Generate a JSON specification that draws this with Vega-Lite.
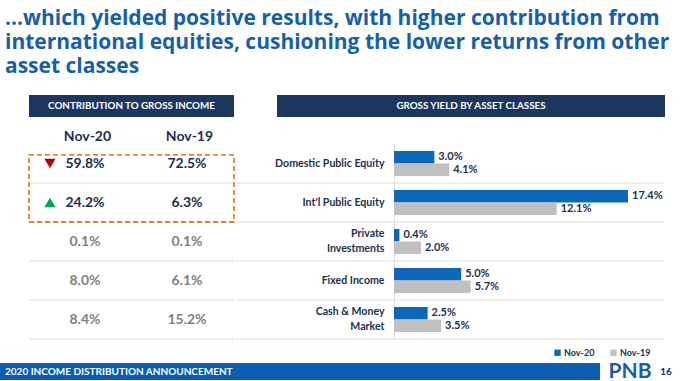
{
  "$schema": "https://vega.github.io/schema/vega-lite/v6.json",
  "background": "white",
  "padding": {"left": 0, "top": 8, "right": 0, "bottom": 0},
  "title": {
    "text": ["…which yielded positive results, with higher contribution from", "international equities, cushioning the lower returns from other", "asset classes"],
    "anchor": "start",
    "frame": "group",
    "font": "Open Sans",
    "fontSize": 21,
    "fontWeight": "bold",
    "lineHeight": 24,
    "color": "#1560a8",
    "offset": 18,
    "dx": 5
  },
  "config": {
    "view": {"stroke": null},
    "font": "Lato",
    "text": {"font": "Lato"}
  },
  "datasets": {
    "yield": [
      {"asset": "Domestic Public Equity", "period": "Nov-20", "value": 0.030},
      {"asset": "Domestic Public Equity", "period": "Nov-19", "value": 0.041},
      {"asset": "Int'l Public Equity", "period": "Nov-20", "value": 0.174},
      {"asset": "Int'l Public Equity", "period": "Nov-19", "value": 0.121},
      {"asset": "Private Investments", "period": "Nov-20", "value": 0.004},
      {"asset": "Private Investments", "period": "Nov-19", "value": 0.020},
      {"asset": "Fixed Income", "period": "Nov-20", "value": 0.050},
      {"asset": "Fixed Income", "period": "Nov-19", "value": 0.057},
      {"asset": "Cash & Money Market", "period": "Nov-20", "value": 0.025},
      {"asset": "Cash & Money Market", "period": "Nov-19", "value": 0.035}
    ],
    "contrib": [
      {"asset": "Domestic Public Equity", "period": "Nov-20", "share": 0.598},
      {"asset": "Domestic Public Equity", "period": "Nov-19", "share": 0.725},
      {"asset": "Int'l Public Equity", "period": "Nov-20", "share": 0.242},
      {"asset": "Int'l Public Equity", "period": "Nov-19", "share": 0.063},
      {"asset": "Private Investments", "period": "Nov-20", "share": 0.001},
      {"asset": "Private Investments", "period": "Nov-19", "share": 0.001},
      {"asset": "Fixed Income", "period": "Nov-20", "share": 0.080},
      {"asset": "Fixed Income", "period": "Nov-19", "share": 0.061},
      {"asset": "Cash & Money Market", "period": "Nov-20", "share": 0.084},
      {"asset": "Cash & Money Market", "period": "Nov-19", "share": 0.152}
    ],
    "trend": [
      {"asset": "Domestic Public Equity", "period": "Nov-20", "trend": "down"},
      {"asset": "Int'l Public Equity", "period": "Nov-20", "trend": "up"}
    ]
  },
  "spacing": 2,
  "resolve": {"scale": {"color": "independent", "shape": "independent"}, "legend": {"color": "independent", "shape": "independent"}},
  "vconcat": [
    {
      "spacing": 14,
      "resolve": {"scale": {"color": "independent", "shape": "independent"}, "legend": {"color": "independent", "shape": "independent"}},
      "hconcat": [
        {"width": 14, "height": 1, "data": {"values": []}, "mark": "point"},
        {
          "spacing": 12,
          "resolve": {"scale": {"color": "independent", "shape": "independent"}, "legend": {"color": "independent", "shape": "independent"}},
          "vconcat": [
            {
              "spacing": 43,
              "hconcat": [
                {
                  "width": 205, "height": 22,
                  "view": {"fill": "#1c3660", "stroke": null},
                  "data": {"values": [{"label": "CONTRIBUTION TO GROSS INCOME"}]},
                  "mark": {"type": "text", "color": "white", "fontSize": 9.8, "fontWeight": "bold"},
                  "encoding": {"text": {"field": "label"}}
                },
                {
                  "width": 388, "height": 22,
                  "view": {"fill": "#1c3660", "stroke": null},
                  "data": {"values": [{"label": "GROSS YIELD BY ASSET CLASSES"}]},
                  "mark": {"type": "text", "color": "white", "fontSize": 9.8, "fontWeight": "bold"},
                  "encoding": {"text": {"field": "label"}}
                }
              ]
            },
            {
              "spacing": 0,
              "resolve": {"scale": {"color": "independent", "shape": "independent"}, "legend": {"color": "independent", "shape": "independent"}},
              "hconcat": [
                {
                  "width": 205, "height": 195,
                  "layer": [
                    {
                      "data": {"name": "contrib"},
                      "mark": {"type": "text", "fontSize": 14, "fontWeight": "bold", "dx": -2},
                      "encoding": {
                        "y": {"field": "asset", "type": "nominal",
                              "scale": {"domain": ["Domestic Public Equity", "Int'l Public Equity", "Private Investments", "Fixed Income", "Cash & Money Market"], "paddingInner": 0, "paddingOuter": 0},
                              "axis": null},
                        "x": {"field": "period", "type": "nominal",
                              "scale": {"type": "point", "domain": ["Nov-20", "Nov-19"], "padding": 0.505, "align": 0.563},
                              "axis": {"orient": "top", "title": null, "domain": false, "ticks": false, "tickSize": 0, "labelFontSize": 14, "labelFontWeight": "bold", "labelColor": "#1d2f4f", "labelPadding": 8, "labelBaseline": "middle", "labelAngle": 0}},
                        "text": {"field": "share", "type": "quantitative", "format": ".1%"},
                        "color": {"condition": {"test": "datum.asset == 'Domestic Public Equity' || datum.asset == 'Int\\'l Public Equity'", "value": "#1d2f4f"}, "value": "#7f7f7f"}
                      }
                    },
                    {
                      "data": {"name": "contrib"},
                      "mark": {"type": "rule", "color": "#e6e6e6", "strokeWidth": 1},
                      "encoding": {
                        "y": {"field": "asset", "type": "nominal", "bandPosition": 1, "axis": null}
                      }
                    },
                    {
                      "data": {"values": [{"from": "Domestic Public Equity", "to": "Private Investments"}]},
                      "mark": {"type": "rect", "fill": null, "stroke": "#d4893a", "strokeWidth": 1.8, "strokeDash": [5, 3]},
                      "encoding": {
                        "y": {"field": "from", "type": "nominal", "bandPosition": 0.28, "axis": null},
                        "y2": {"datum": "Private Investments", "bandPosition": 0}
                      }
                    },
                    {
                      "data": {"name": "trend"},
                      "mark": {"type": "point", "filled": true, "size": 125, "opacity": 1, "xOffset": -37},
                      "encoding": {
                        "y": {"field": "asset", "type": "nominal", "axis": null},
                        "x": {"field": "period", "type": "nominal"},
                        "shape": {"field": "trend", "type": "nominal", "scale": {"domain": ["down", "up"], "range": ["triangle-down", "triangle-up"]}, "legend": null},
                        "color": {"field": "trend", "type": "nominal", "scale": {"domain": ["down", "up"], "range": ["#b30000", "#00a650"]}, "legend": null}
                      }
                    }
                  ]
                },
                {
                  "width": 428, "height": 195,
                  "data": {"name": "yield"},
                  "layer": [
                    {
                      "mark": {"type": "bar"},
                      "encoding": {
                        "y": {"field": "asset", "type": "nominal",
                              "scale": {"domain": ["Domestic Public Equity", "Int'l Public Equity", "Private Investments", "Fixed Income", "Cash & Money Market"], "paddingInner": 0.36, "paddingOuter": 0.18},
                              "axis": {"orient": "left", "offset": -158, "title": null, "ticks": false, "domainColor": "#dcdcdc", "domainWidth": 1, "labelFontSize": 10.6, "labelFontWeight": "bold", "labelColor": "#1d2f4f", "labelPadding": 10, "labelLimit": 300, "labelLineHeight": 15,
                                       "labelOffset": {"condition": {"test": "datum.value == 'Private Investments' || datum.value == 'Cash & Money Market'", "value": -7.5}, "value": 0},
                                       "labelExpr": "datum.value == 'Private Investments' ? ['Private', 'Investments'] : datum.value == 'Cash & Money Market' ? ['Cash & Money', 'Market'] : datum.value"}},
                        "x": {"field": "value", "type": "quantitative", "scale": {"domain": [-0.11749, 0.20077], "nice": false, "zero": false}, "axis": null},
                        "x2": {"datum": 0},
                        "yOffset": {"field": "period", "type": "nominal", "scale": {"domain": ["Nov-20", "Nov-19"], "paddingInner": 0, "paddingOuter": 0}},
                        "color": {"field": "period", "type": "nominal",
                                  "scale": {"domain": ["Nov-20", "Nov-19"], "range": ["#0b68b8", "#c0c0c0"]},
                                  "legend": {"orient": "none", "legendX": 317, "legendY": 204, "direction": "horizontal", "title": null, "symbolType": "square", "symbolSize": 40, "symbolStrokeWidth": 0, "labelFontSize": 9, "labelFontWeight": "bold", "labelColor": "#1d2f4f", "columnPadding": 14, "labelOffset": 2}}
                      }
                    },
                    {
                      "mark": {"type": "text", "align": "left", "dx": 4, "fontSize": 11, "fontWeight": "bold", "color": "#1d2f4f"},
                      "encoding": {
                        "y": {"field": "asset", "type": "nominal"},
                        "x": {"field": "value", "type": "quantitative"},
                        "yOffset": {"field": "period", "type": "nominal"},
                        "text": {"field": "value", "type": "quantitative", "format": ".1%"}
                      }
                    },
                    {
                      "mark": {"type": "rule", "color": "#e6e6e6", "strokeWidth": 1},
                      "encoding": {
                        "y": {"field": "asset", "type": "nominal", "bandPosition": 1.28}
                      }
                    }
                  ]
                }
              ]
            }
          ]
        }
      ]
    },
    {
      "spacing": 8,
      "hconcat": [
        {
          "width": 600, "height": 17,
          "view": {"fill": "#0b5db0", "stroke": null},
          "data": {"values": [{"caption": "2020 INCOME DISTRIBUTION ANNOUNCEMENT"}]},
          "mark": {"type": "text", "align": "left", "dx": 5, "color": "white", "fontSize": 10, "fontWeight": "bold"},
          "encoding": {
            "x": {"field": "caption", "type": "nominal", "scale": {"type": "point", "padding": 0, "align": 0}, "axis": null},
            "text": {"field": "caption"}
          }
        },
        {
          "width": 42, "height": 17,
          "data": {"values": [{"brand": "PNB"}]},
          "mark": {"type": "text", "color": "#1a5ca8", "fontSize": 21, "fontWeight": "bold"},
          "encoding": {"text": {"field": "brand"}}
        },
        {
          "width": 12, "height": 17,
          "data": {"values": [{"page": "16"}]},
          "mark": {"type": "text", "color": "#1d2f4f", "fontSize": 10, "fontWeight": "bold"},
          "encoding": {"text": {"field": "page"}}
        }
      ]
    }
  ]
}
